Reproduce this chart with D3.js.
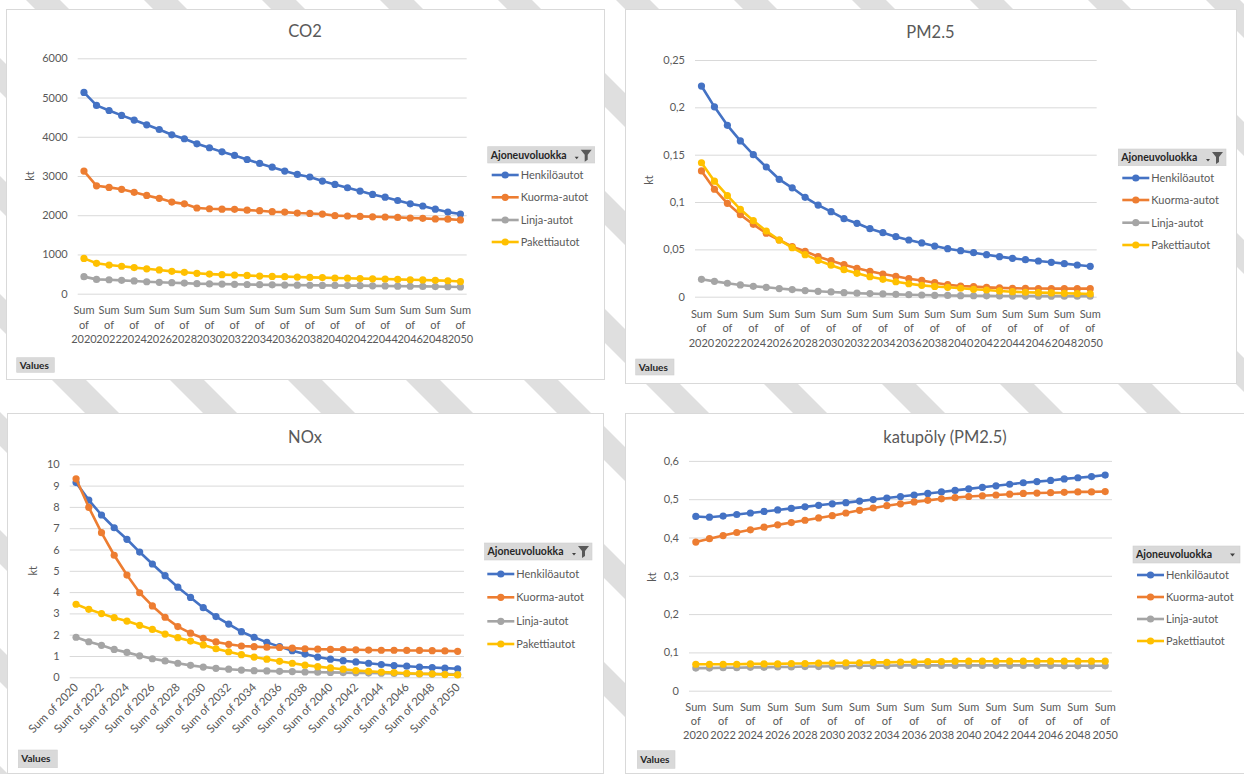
<!DOCTYPE html>
<html>
<head>
<meta charset="utf-8">
<script src="https://cdn.jsdelivr.net/npm/d3@7"></script>
<style>
  body { margin: 0; background: #fff; }
  svg { display: block; font-family: Lato, "Open Sans", sans-serif; }
</style>
</head>
<body>
<svg id="chart" width="1244" height="774"></svg>
<script>
// ---- categories ----
const years = [2020, 2021, 2022, 2023, 2024, 2025, 2026, 2027, 2028, 2029, 2030,
  2031, 2032, 2033, 2034, 2035, 2036, 2037, 2038, 2039, 2040,
  2041, 2042, 2043, 2044, 2045, 2046, 2047, 2048, 2049, 2050];
const seriesNames = ["Henkilöautot", "Kuorma-autot", "Linja-autot", "Pakettiautot"];
const seriesColors = ["#4472C4", "#ED7D31", "#A5A5A5", "#FFC000"];

// ---- CO2 (kt) ----
const co2Henkilo = [5130, 4800, 4670, 4545, 4425, 4305, 4185, 4050, 3950, 3820, 3720, 3615, 3525, 3420, 3320, 3225, 3125, 3040, 2975, 2870, 2785, 2700, 2615, 2530, 2460, 2375, 2290, 2235, 2155, 2080, 2030];
const co2Kuorma = [3125, 2750, 2710, 2660, 2585, 2505, 2430, 2335, 2290, 2185, 2165, 2155, 2150, 2130, 2115, 2090, 2080, 2055, 2045, 2030, 1990, 1980, 1970, 1960, 1955, 1945, 1930, 1920, 1905, 1900, 1880];
const co2Linja = [435, 365, 355, 340, 325, 305, 290, 280, 270, 255, 250, 245, 240, 235, 230, 225, 220, 218, 215, 212, 210, 207, 205, 200, 197, 193, 190, 186, 182, 178, 172];
const co2Paketti = [900, 775, 730, 700, 665, 635, 605, 570, 545, 520, 500, 485, 475, 465, 450, 440, 435, 425, 415, 410, 400, 395, 385, 380, 375, 365, 355, 350, 340, 330, 310];

// ---- PM2.5 (kt) ----
const pmHenkilo = [0.2225, 0.2005, 0.181, 0.1645, 0.150, 0.137, 0.124, 0.115, 0.105, 0.0968, 0.0898, 0.0824, 0.0775, 0.0718, 0.0676, 0.0634, 0.0599, 0.0568, 0.0535, 0.0507, 0.0486, 0.0465, 0.0444, 0.0423, 0.0405, 0.0391, 0.0377, 0.0363, 0.0349, 0.0335, 0.0321];
const pmKuorma = [0.1328, 0.1135, 0.0986, 0.0866, 0.0764, 0.067, 0.0599, 0.0528, 0.048, 0.0423, 0.038, 0.0338, 0.030, 0.0268, 0.024, 0.0215, 0.019, 0.0172, 0.0148, 0.0127, 0.0113, 0.0106, 0.0099, 0.0093, 0.0089, 0.0087, 0.0086, 0.0085, 0.0085, 0.0085, 0.0085];
const pmLinja = [0.0184, 0.0162, 0.0142, 0.0124, 0.011, 0.0099, 0.0086, 0.0075, 0.0065, 0.0057, 0.005, 0.0043, 0.0037, 0.0033, 0.0029, 0.0025, 0.0021, 0.0018, 0.0015, 0.0013, 0.0011, 0.001, 0.0009, 0.0008, 0.0007, 0.0007, 0.0006, 0.0006, 0.0005, 0.0005, 0.0005];
const pmPaketti = [0.1415, 0.1220, 0.1067, 0.0923, 0.0803, 0.0694, 0.0599, 0.0518, 0.0444, 0.0384, 0.0332, 0.0285, 0.0247, 0.0211, 0.0184, 0.0158, 0.0137, 0.012, 0.0108, 0.0099, 0.0089, 0.0078, 0.0071, 0.0061, 0.0053, 0.0047, 0.0043, 0.004, 0.0036, 0.0032, 0.0029];

// ---- NOx (kt) ----
const noxHenkilo = [9.14, 8.32, 7.62, 7.02, 6.48, 5.88, 5.32, 4.77, 4.23, 3.75, 3.27, 2.85, 2.50, 2.14, 1.88, 1.64, 1.44, 1.25, 1.09, 0.95, 0.85, 0.78, 0.72, 0.66, 0.60, 0.55, 0.52, 0.48, 0.46, 0.43, 0.40];
const noxKuorma = [9.32, 7.98, 6.79, 5.73, 4.80, 3.97, 3.35, 2.82, 2.38, 2.07, 1.83, 1.66, 1.55, 1.47, 1.44, 1.41, 1.40, 1.37, 1.34, 1.32, 1.31, 1.30, 1.29, 1.28, 1.27, 1.27, 1.26, 1.26, 1.25, 1.24, 1.22];
const noxLinja = [1.88, 1.67, 1.50, 1.31, 1.17, 1.01, 0.87, 0.77, 0.66, 0.56, 0.48, 0.42, 0.38, 0.34, 0.31, 0.30, 0.28, 0.27, 0.25, 0.24, 0.23, 0.22, 0.21, 0.20, 0.19, 0.18, 0.17, 0.16, 0.15, 0.15, 0.14];
const noxPaketti = [3.43, 3.19, 2.99, 2.80, 2.64, 2.44, 2.25, 2.03, 1.86, 1.70, 1.52, 1.34, 1.20, 1.06, 0.95, 0.85, 0.75, 0.66, 0.57, 0.50, 0.44, 0.38, 0.32, 0.28, 0.25, 0.22, 0.19, 0.17, 0.16, 0.13, 0.11];

// ---- katupöly PM2.5 (kt) ----
const kpHenkilo = [0.455, 0.453, 0.456, 0.460, 0.464, 0.468, 0.472, 0.476, 0.480, 0.484, 0.488, 0.491, 0.495, 0.499, 0.503, 0.507, 0.511, 0.515, 0.519, 0.523, 0.527, 0.531, 0.535, 0.539, 0.543, 0.546, 0.549, 0.553, 0.556, 0.559, 0.563];
const kpKuorma = [0.388, 0.397, 0.405, 0.413, 0.420, 0.427, 0.433, 0.439, 0.445, 0.451, 0.457, 0.464, 0.471, 0.477, 0.483, 0.488, 0.493, 0.497, 0.501, 0.504, 0.507, 0.509, 0.511, 0.513, 0.515, 0.516, 0.517, 0.518, 0.519, 0.519, 0.520];
const kpLinja = [0.059, 0.059, 0.060, 0.060, 0.061, 0.061, 0.062, 0.062, 0.063, 0.063, 0.064, 0.064, 0.065, 0.065, 0.065, 0.066, 0.066, 0.066, 0.066, 0.066, 0.066, 0.066, 0.066, 0.066, 0.066, 0.066, 0.066, 0.065, 0.065, 0.065, 0.065];
const kpPaketti = [0.069, 0.069, 0.069, 0.069, 0.070, 0.070, 0.070, 0.071, 0.071, 0.072, 0.072, 0.073, 0.073, 0.074, 0.074, 0.075, 0.075, 0.076, 0.076, 0.077, 0.077, 0.077, 0.077, 0.077, 0.077, 0.077, 0.077, 0.077, 0.077, 0.077, 0.077];

// ---- tick labels ----
const co2Ticks = [0, 1000, 2000, 3000, 4000, 5000, 6000];
const pmTicks = [0, 0.05, 0.1, 0.15, 0.2, 0.25];
const noxTicks = [0, 1, 2, 3, 4, 5, 6, 7, 8, 9, 10];
const kpTicks = [0, 0.1, 0.2, 0.3, 0.4, 0.5, 0.6];
const legendTitle = "Ajoneuvoluokka";
const valuesLabel = "Values";
const yAxisTitle = "kt";

const commaFmt = v => String(v).replace(".", ",");

const panels = [
  { title: "CO2", series: [co2Henkilo, co2Kuorma, co2Linja, co2Paketti], ticks: co2Ticks, fmt: d => String(d),
    box: [6, 9, 598, 370], titleY: 37, plot: { x0: 77.7, x1: 466.7, yb: 293.7, yt: 58.3 },
    kt: [30, 176], xlab: { mode: "stack", ys: [314, 328.5, 343] },
    legend: { x: 487.7, y: 146.7, w: 107, h: 16.3, ix: 491.7, ys: [175, 197.3, 220, 242], filter: true },
    values: [16.7, 357.7, 37.6, 14.6] },
  { title: "PM2.5", series: [pmHenkilo, pmKuorma, pmLinja, pmPaketti], ticks: pmTicks, fmt: commaFmt,
    box: [625, 9, 611, 374], titleY: 38, plot: { x0: 695, x1: 1096.7, yb: 296.7, yt: 60 },
    kt: [649.3, 180], xlab: { mode: "stack", ys: [317.5, 332, 346.5] },
    legend: { x: 1118.3, y: 149, w: 107.7, h: 16.7, ix: 1122.3, ys: [178, 200, 222.7, 245], filter: true },
    values: [635.7, 359, 38.3, 16] },
  { title: "NOx", series: [noxHenkilo, noxKuorma, noxLinja, noxPaketti], ticks: noxTicks, fmt: d => String(d),
    box: [7, 413, 596, 360], titleY: 442.5, plot: { x0: 69.7, x1: 464, yb: 677.3, yt: 464.3 },
    kt: [33.3, 570.7], xlab: { mode: "rotate", y: 688 },
    legend: { x: 484.5, y: 543, w: 107.5, h: 17, ix: 487.3, ys: [574, 597.3, 621.3, 644], filter: true },
    values: [18.3, 750, 39, 17.7] },
  { title: "katupöly (PM2.5)", series: [kpHenkilo, kpKuorma, kpLinja, kpPaketti], ticks: kpTicks, fmt: commaFmt,
    box: [625, 413, 640, 360], titleY: 443, plot: { x0: 689, x1: 1112, yb: 690.7, yt: 460.9 },
    kt: [652, 577], xlab: { mode: "stack", ys: [710.7, 725, 739.3] },
    legend: { x: 1133, y: 546, w: 107, h: 17, ix: 1137, ys: [575, 597, 619, 641], filter: false },
    values: [637.3, 750.7, 37.7, 17.6] }
];

const svg = d3.select("#chart");

// Light diagonal watermark bands behind the panels
const bg = svg.append("g");
for (let a = -800; a < 1300; a += 118) {
  bg.append("polygon")
    .attr("points", `${a},0 ${a + 34},0 ${a + 34 + 780},780 ${a + 780},780`)
    .attr("fill", "#dfdfdf");
}

panels.forEach(p => {
  const g = svg.append("g");
  const [bx, by, bw, bh] = p.box;
  g.append("rect").attr("x", bx + 0.5).attr("y", by + 0.5).attr("width", bw).attr("height", bh)
    .attr("fill", "#fff").attr("stroke", "#d9d9d9").attr("stroke-width", 1);

  g.append("text").attr("x", bx + bw / 2).attr("y", p.titleY).attr("text-anchor", "middle")
    .attr("font-size", 16.5).attr("fill", "#595959").text(p.title);

  const x = d3.scaleBand().domain(years).range([p.plot.x0, p.plot.x1]);
  const cx = yr => x(yr) + x.bandwidth() / 2;
  const ymax = p.ticks[p.ticks.length - 1];
  const y = d3.scaleLinear().domain([0, ymax]).range([p.plot.yb, p.plot.yt]);

  // Value axis with gridlines
  const ax = g.append("g").attr("transform", `translate(${p.plot.x0},0)`)
    .call(d3.axisLeft(y).tickValues(p.ticks).tickFormat(p.fmt)
      .tickSize(-(p.plot.x1 - p.plot.x0)).tickPadding(10));
  ax.select(".domain").remove();
  ax.selectAll(".tick line").attr("stroke", "#d9d9d9").attr("stroke-width", 1);
  ax.selectAll(".tick text").attr("fill", "#595959").attr("font-size", 11)
    .attr("font-family", "Lato, 'Open Sans', sans-serif");

  g.append("text").attr("transform", `translate(${p.kt[0]},${p.kt[1]}) rotate(-90)`)
    .attr("text-anchor", "middle").attr("dy", "0.35em").attr("font-size", 11)
    .attr("fill", "#595959").text(yAxisTitle);

  // Category labels, every second year
  const labelYears = years.filter((d, i) => i % 2 === 0);
  if (p.xlab.mode === "stack") {
    labelYears.forEach(yr => {
      const t = g.append("text").attr("text-anchor", "middle").attr("font-size", 11).attr("fill", "#595959");
      ["Sum", "of", String(yr)].forEach((s, i) => {
        t.append("tspan").attr("x", cx(yr)).attr("y", p.xlab.ys[i]).text(s);
      });
    });
  } else {
    labelYears.forEach(yr => {
      g.append("text").attr("transform", `translate(${cx(yr) + 3},${p.xlab.y}) rotate(-45)`)
        .attr("text-anchor", "end").attr("font-size", 11.5).attr("fill", "#595959")
        .text(`Sum of ${yr}`);
    });
  }

  // Lines and markers
  const line = d3.line().x((d, i) => cx(years[i])).y(d => y(d));
  p.series.forEach((vals, si) => {
    const sg = g.append("g");
    sg.append("path").datum(vals).attr("d", line).attr("fill", "none")
      .attr("stroke", seriesColors[si]).attr("stroke-width", 2.6).attr("stroke-linejoin", "round");
    sg.selectAll("circle").data(vals).join("circle")
      .attr("cx", (d, i) => cx(years[i])).attr("cy", d => y(d)).attr("r", 3.6)
      .attr("fill", seriesColors[si]);
  });

  // Legend with field header
  const L = p.legend;
  const lg = g.append("g");
  lg.append("rect").attr("x", L.x).attr("y", L.y).attr("width", L.w).attr("height", L.h)
    .attr("fill", "#d9d9d9").attr("stroke", "#cfcfcf").attr("stroke-width", 0.6);
  lg.append("text").attr("x", L.x + 3).attr("y", L.y + L.h / 2).attr("dy", "0.35em")
    .attr("font-size", 10.5).attr("font-weight", 700).attr("fill", "#262626").text(legendTitle);
  if (L.filter) {
    const fx = L.x + L.w - 14, fy = L.y + 3;
    lg.append("path").attr("d", `M${fx},${fy} h11 l-4,5 v5 l-3,2 v-7 z`).attr("fill", "#595959");
    lg.append("path").attr("d", `M${fx - 6},${fy + 7} h4 l-2,2.5 z`).attr("fill", "#404040");
  } else {
    const fx = L.x + L.w - 10, fy = L.y + L.h / 2 - 1;
    lg.append("path").attr("d", `M${fx},${fy} h5 l-2.5,3 z`).attr("fill", "#404040");
  }
  seriesNames.forEach((name, i) => {
    const yy = L.ys[i];
    lg.append("line").attr("x1", L.ix).attr("x2", L.ix + 27).attr("y1", yy).attr("y2", yy)
      .attr("stroke", seriesColors[i]).attr("stroke-width", 2.6);
    lg.append("circle").attr("cx", L.ix + 13.5).attr("cy", yy).attr("r", 3.6).attr("fill", seriesColors[i]);
    lg.append("text").attr("x", L.ix + 29).attr("y", yy).attr("dy", "0.35em")
      .attr("font-size", 11).attr("fill", "#595959").text(name);
  });

  // "Values" field button
  const [vx, vy, vw, vh] = p.values;
  g.append("rect").attr("x", vx).attr("y", vy).attr("width", vw).attr("height", vh)
    .attr("fill", "#d9d9d9").attr("stroke", "#cfcfcf").attr("stroke-width", 0.6);
  g.append("text").attr("x", vx + 3).attr("y", vy + vh / 2).attr("dy", "0.35em")
    .attr("font-size", 10).attr("font-weight", 700).attr("fill", "#262626").text(valuesLabel);
});
</script>
</body>
</html>
